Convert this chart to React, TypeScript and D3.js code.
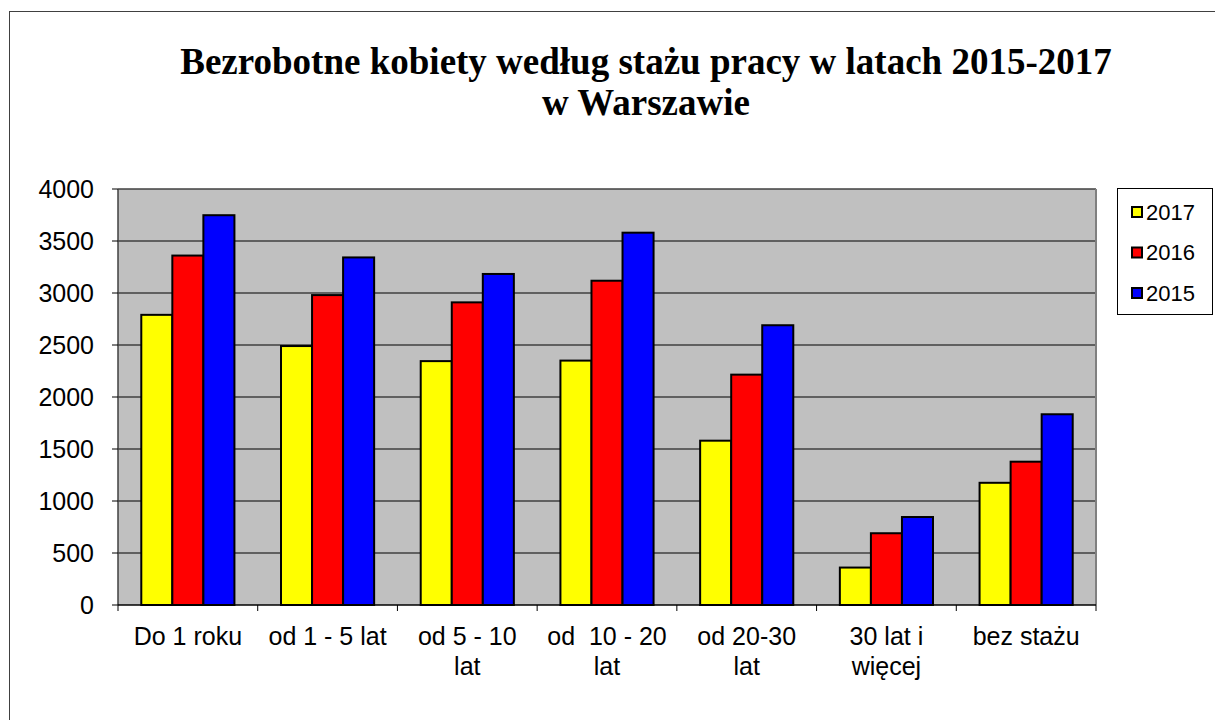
import React from "react";
import * as d3 from "d3";

const categories = ["Do 1 roku", "od 1 - 5 lat", "od 5 - 10\nlat", "od  10 - 20\nlat", "od 20-30\nlat", "30 lat i\nwięcej", "bez stażu"];
const seriesNames = ["2017", "2016", "2015"];
const values2017 = [2790, 2490, 2345, 2350, 1580, 360, 1175];
const values2016 = [3360, 2980, 2910, 3118, 2215, 690, 1378];
const values2015 = [3748, 3342, 3183, 3580, 2690, 846, 1834];
const seriesColors = ["#FFFF00", "#FF0000", "#0000FF"];
const yTicks = [0, 500, 1000, 1500, 2000, 2500, 3000, 3500, 4000];
const titleLines = ["Bezrobotne kobiety według stażu pracy w latach 2015-2017", "w Warszawie"];

export default function App() {
  const W = 1215, H = 720;
  const plot = { left: 118, right: 1096, top: 189, bottom: 605 };
  const seriesValues = [values2017, values2016, values2015];

  const x = d3.scaleBand<string>().domain(categories).range([plot.left, plot.right]).padding(0);
  const bw = x.bandwidth();
  const barW = bw / 4.5;
  const x1 = d3.scaleBand<string>().domain(seriesNames).range([barW * 0.75, bw - barW * 0.75]).padding(0);
  const y = d3.scaleLinear().domain([0, 4000]).range([plot.bottom, plot.top]);

  const font = "Arial, 'Liberation Sans', sans-serif";

  return (
    <div style={{ position: "absolute", left: 0, top: 0 }}>
      <svg width={W} height={H} style={{ display: "block", background: "#fff" }}>
        <rect x={9.5} y={11.5} width={W} height={H} fill="#fff" stroke="#404040" strokeWidth={1} />
        {titleLines.map((t, i) => (
          <text key={i} x={646} y={74 + i * 41} textAnchor="middle" fontFamily="'Liberation Serif', 'Times New Roman', serif" fontWeight="bold" fontSize={37} fill="#000">
            {t}
          </text>
        ))}
        <rect x={plot.left} y={plot.top} width={plot.right - plot.left} height={plot.bottom - plot.top} fill="#C0C0C0" />
        {yTicks.filter((t) => t > 0).map((t) => (
          <line key={t} x1={plot.left} x2={plot.right} y1={y(t)} y2={y(t)} stroke="#404040" strokeWidth={1.5} />
        ))}
        <line x1={plot.right} x2={plot.right} y1={plot.top} y2={plot.bottom} stroke="#808080" strokeWidth={2} />
        <line x1={plot.left} x2={plot.left} y1={plot.top} y2={plot.bottom} stroke="#404040" strokeWidth={1.5} />
        {categories.map((c, ci) => (
          <g key={c}>
            {seriesNames.map((s, si) => {
              const v = seriesValues[si][ci];
              return (
                <rect key={s} x={(x(c) as number) + (x1(s) as number)} y={y(v)} width={x1.bandwidth()} height={y(0) - y(v)} fill={seriesColors[si]} stroke="#000" strokeWidth={2} />
              );
            })}
          </g>
        ))}
        <line x1={plot.left} x2={plot.right} y1={plot.bottom} y2={plot.bottom} stroke="#000" strokeWidth={1.5} />
        {yTicks.map((t) => (
          <g key={t}>
            <line x1={plot.left - 6} x2={plot.left} y1={y(t)} y2={y(t)} stroke="#000" strokeWidth={1} />
            <text x={94} y={y(t)} dy="0.36em" textAnchor="end" fontFamily={font} fontSize={25} fill="#000">{t}</text>
          </g>
        ))}
        {d3.range(categories.length + 1).map((i) => {
          const xx = plot.left + i * bw;
          return <line key={i} x1={xx} x2={xx} y1={plot.bottom} y2={plot.bottom + 6} stroke="#000" strokeWidth={1} />;
        })}
        {categories.map((c) => {
          const lines = c.split("\n");
          const cx = (x(c) as number) + bw / 2;
          return (
            <text key={c} x={cx} y={645} textAnchor="middle" fontFamily={font} fontSize={25} fill="#000" style={{ whiteSpace: "pre" }}>
              {lines.map((l, i) => (
                <tspan key={i} x={cx} dy={i === 0 ? 0 : 30}>{l}</tspan>
              ))}
            </text>
          );
        })}
        <rect x={1117.5} y={188.5} width={95} height={126} fill="#fff" stroke="#000" strokeWidth={1} />
        {seriesNames.map((s, i) => (
          <g key={s}>
            <rect x={1132} y={207 + i * 40.5} width={10} height={10} fill={seriesColors[i]} stroke="#000" strokeWidth={2} />
            <text x={1146} y={212 + i * 40.5} dy="0.36em" fontFamily={font} fontSize={22} fill="#000">{s}</text>
          </g>
        ))}
      </svg>
    </div>
  );
}
